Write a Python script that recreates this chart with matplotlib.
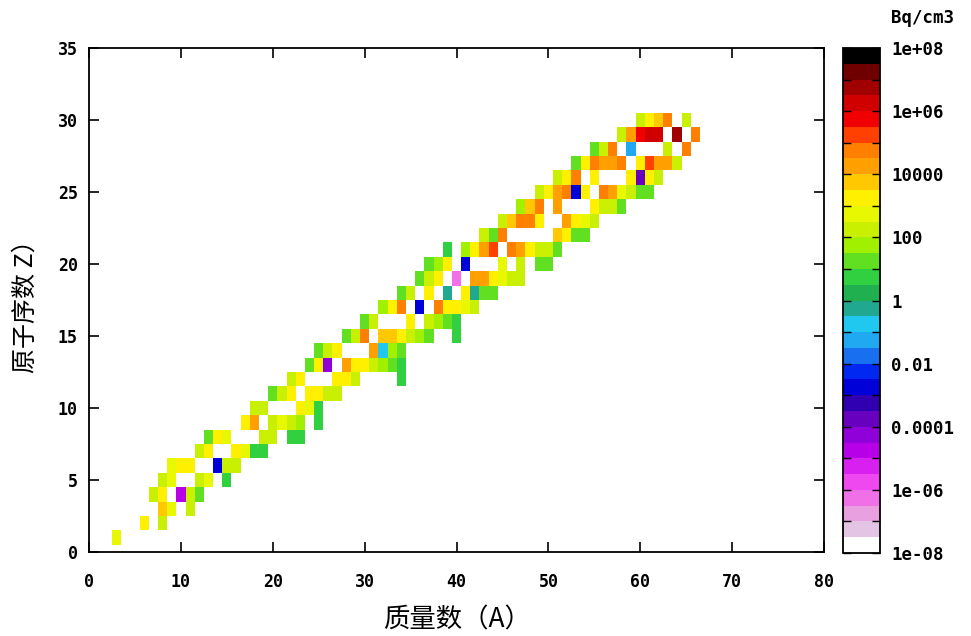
import matplotlib
matplotlib.use('Agg')
import matplotlib.pyplot as plt
import numpy as np
from matplotlib.colors import ListedColormap, BoundaryNorm

plt.rcParams['font.family'] = ['DejaVu Sans Mono', 'Noto Sans CJK SC']
plt.rcParams['axes.linewidth'] = 1.3

# ── 数据: 每一行 = 一个原子序数 Z, 值为 log10(Bq/cm3) ──
Z_ROWS = list(range(1, 31))
A_ROWS = [
    [3],
    [6, 8],
    [8, 9, 11],
    [7, 8, 10, 11, 12],
    [8, 9, 12, 13, 15],
    [9, 10, 11, 14, 15, 16],
    [12, 13, 16, 17, 18, 19],
    [13, 14, 15, 19, 20, 22, 23],
    [17, 18, 20, 21, 22, 23, 25],
    [18, 19, 23, 24, 25],
    [20, 21, 22, 24, 25, 26, 27],
    [22, 23, 27, 28, 29, 34],
    [24, 25, 26, 28, 29, 30, 31, 32, 33, 34],
    [25, 26, 27, 31, 32, 33, 34],
    [28, 29, 30, 32, 33, 34, 35, 36, 37, 40],
    [30, 31, 35, 37, 38, 39, 40],
    [32, 33, 34, 36, 38, 39, 40, 41, 42],
    [34, 35, 37, 39, 41, 42, 43, 44],
    [36, 37, 38, 40, 42, 43, 44, 45, 46, 47],
    [37, 38, 39, 41, 45, 47, 49, 50],
    [39, 41, 42, 43, 44, 46, 47, 48, 49, 50, 51],
    [43, 44, 45, 51, 52, 53, 54],
    [45, 46, 47, 48, 49, 52, 53, 54, 55],
    [47, 48, 49, 51, 55, 56, 57, 58],
    [49, 50, 51, 52, 53, 54, 56, 57, 58, 59, 60, 61],
    [51, 52, 53, 55, 59, 60, 61, 62],
    [53, 54, 55, 56, 57, 58, 60, 61, 62, 63, 64],
    [55, 56, 57, 59, 63, 65],
    [58, 59, 60, 61, 62, 64, 66],
    [60, 61, 62, 63, 65],
]
LOG_ROWS = [
    [2.75],
    [3.25, 2.25],
    [3.75, 2.75, 2.25],
    [2.25, 3.25, -4.75, 2.25, 1.25],
    [2.25, 2.75, 2.25, 2.75, 0.75],
    [2.75, 3.25, 3.25, -2.75, 2.25, 2.25],
    [2.25, 3.25, 3.25, 2.75, 0.75, 0.75],
    [1.25, 3.25, 2.75, 2.25, 2.25, 0.75, 0.75],
    [3.25, 4.25, 2.25, 2.75, 2.25, 1.75, 0.75],
    [2.25, 2.25, 3.25, 2.75, 0.75],
    [1.25, 2.25, 3.25, 3.25, 3.25, 2.25, 2.25],
    [2.25, 3.25, 3.25, 3.25, 2.25, 0.75],
    [1.25, 3.25, -4.25, 4.25, 3.25, 3.25, 2.25, 1.75, 1.25, 0.75],
    [1.25, 2.25, 3.25, 4.25, -0.75, 1.75, 1.25],
    [1.25, 2.25, 4.75, 3.75, 3.75, 3.25, 2.25, 1.75, 1.25, 0.75],
    [1.25, 2.25, 3.25, 2.25, 1.75, 1.25, 0.75],
    [1.75, 3.25, 4.75, -2.75, 4.75, 3.25, 3.25, 2.75, 2.25],
    [1.25, 2.25, 3.25, -0.25, 3.25, -0.25, 1.25, 1.25],
    [1.25, 2.25, 3.25, -6.25, 4.25, 4.25, 3.25, 2.75, 2.25, 2.25],
    [1.25, 1.75, 3.25, -2.75, 2.75, 2.25, 1.25, 1.25],
    [0.75, 1.75, 3.25, 4.25, 5.25, 4.75, 4.25, 3.25, 2.25, 2.25, 1.25],
    [2.25, 1.25, 4.75, 3.75, 3.25, 1.25, 1.25],
    [2.25, 3.75, 4.75, 4.75, 3.25, 4.25, 3.25, 2.75, 2.25],
    [1.75, 3.75, 4.75, 4.25, 3.25, 2.25, 2.25, 1.25],
    [2.25, 3.25, 4.25, 4.75, -2.75, 3.25, 4.75, 4.25, 2.75, 2.25, 1.25, 1.25],
    [2.25, 3.25, 4.75, 3.25, 3.25, -3.75, 3.25, 2.25],
    [1.25, 3.25, 4.75, 4.25, 4.25, 4.75, 3.25, 5.25, 4.25, 4.25, 2.25],
    [1.25, 2.25, 4.75, -1.25, 2.25, 4.75],
    [2.25, 4.25, 5.75, 6.25, 6.25, 6.75, 4.75],
    [2.25, 3.25, 3.75, 4.75, 2.25],
]

# 色标: 1e-08 .. 1e+08, 每半个数量级一档
PALETTE = [
    '#ffffff', '#e4c4e4', '#e8a0e0', '#f070e8', '#f048f0', '#d820f0',
    '#b800e8', '#9000d8', '#6800c0', '#3000b0', '#0000d8', '#0028f0',
    '#1870f0', '#20a8f0', '#20c8f0', '#20a890', '#20b050', '#30d040',
    '#60e020', '#a0f000', '#c8f000', '#e8f800', '#fff000', '#ffc800',
    '#ffa000', '#ff8000', '#ff4000', '#f00000', '#d00000', '#a00000',
    '#700000', '#000000',
]
CB_TICKS = [-8, -6, -4, -2, 0, 2, 4, 6, 8]
CB_LABELS = ['1e-08', '1e-06', '0.0001', '0.01', '1', '100', '10000', '1e+06', '1e+08']

grid = np.full((36, 81), np.nan)
for z, alist, vlist in zip(Z_ROWS, A_ROWS, LOG_ROWS):
    for a, v in zip(alist, vlist):
        grid[z, a] = v

fig = plt.figure(figsize=(9.71, 6.36), dpi=100)
ax = fig.add_axes([0.0917, 0.1321, 0.7569, 0.7925])

cmap = ListedColormap(PALETTE)
cmap.set_bad('white')
norm = BoundaryNorm(np.arange(-8, 8.01, 0.5), cmap.N)
mesh = ax.pcolormesh(np.arange(-0.5, 81), np.arange(-0.5, 36),
                     np.ma.masked_invalid(grid), cmap=cmap, norm=norm)

ax.set_xlim(0, 80)
ax.set_ylim(0, 35)
ax.set_xticks(range(0, 81, 10))
ax.set_yticks(range(0, 36, 5))
ax.tick_params(direction='in', top=True, right=True, length=7, width=1.2,
               labelsize=12)
ax.tick_params(axis='x', pad=15)
ax.tick_params(axis='y', pad=8)
for lab in ax.get_xticklabels() + ax.get_yticklabels():
    lab.set_fontweight('bold')

ax.set_xlabel('质量数（A）', fontsize=19, family=['Noto Sans CJK SC'], labelpad=11)
ax.set_ylabel('原子序数 Z）', fontsize=18, family=['Noto Sans CJK SC'], labelpad=14)

cax = fig.add_axes([0.8682, 0.1305, 0.0381, 0.794])
cb = fig.colorbar(mesh, cax=cax, ticks=CB_TICKS)
cb.ax.set_yticklabels(CB_LABELS)
cb.ax.set_yticks(range(-8, 9), minor=True)
cb.outline.set_linewidth(1.3)
cb.ax.tick_params(which='both', direction='in', left=True, right=True,
                  length=6, width=1, labelsize=12.5, pad=8)
for lab in cb.ax.get_yticklabels():
    lab.set_fontweight('bold')

fig.text(0.918, 0.972, 'Bq/cm3', fontsize=12.5, fontweight='bold', ha='left', va='center')

fig.savefig('out.png', dpi=100, facecolor='white')
